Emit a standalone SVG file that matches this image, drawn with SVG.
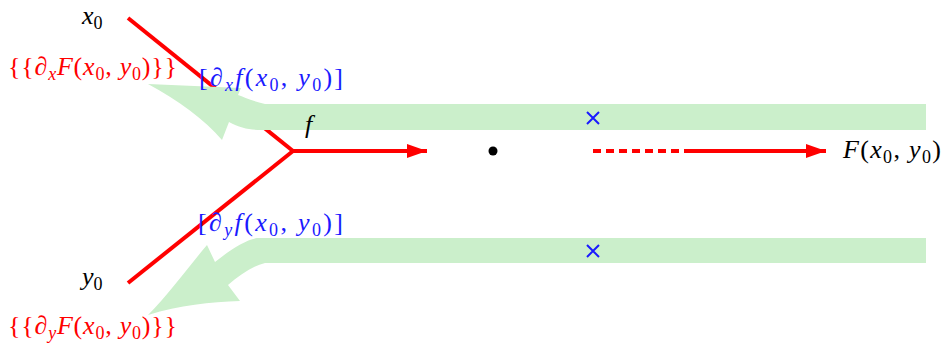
<svg xmlns="http://www.w3.org/2000/svg" width="946" height="347" viewBox="0 0 946 347">
<style>
.band{fill:#cbefcb;stroke:none}
.red{stroke:#ff0000;stroke-width:4;fill:none}
.t{font-family:"Liberation Serif","DejaVu Serif",serif;font-size:26px}
.i{font-style:italic}
.s{font-size:18px}
.cr{fill:#ff0000}
.cb{fill:#1a1aff}
.ck{fill:#000}
.cross{stroke:#1a1aff;stroke-width:2}
</style>
<defs>
<marker id="ah" markerWidth="20" markerHeight="14" refX="20" refY="7" orient="auto" markerUnits="userSpaceOnUse">
<path d="M0,0 L20,7 L0,14 Z" fill="#ff0000"/>
</marker>
</defs>
<g id="connectors">
<line class="red" x1="128" y1="18" x2="293" y2="151"/>
<line class="red" x1="128" y1="283" x2="293" y2="151"/>
<line class="red" x1="291" y1="151" x2="427" y2="151" marker-end="url(#ah)"/>
<line class="red" x1="593" y1="151" x2="688" y2="151" stroke-dasharray="8 5"/>
<line class="red" x1="688" y1="151" x2="826" y2="151" marker-end="url(#ah)"/>
</g>
<g id="gradients">
<path class="band" d="M926 104 L265 104 C252 101 244 97 238 95 L241 88 L148 84 C178 100 205 120 222 140 L229 122 C240 128 250 130 262 130 L926 130 Z"/>
<path class="band" d="M926 238 L257 238 C245 240 230 250 215 262 L207 245 C190 265 168 295 148 315 C180 305 210 302 240 301 L228 285 C240 275 252 266 265 263 L926 263 Z"/>
</g>
<g id="dot"><circle cx="493" cy="151" r="4.5" fill="#000"/></g>
<g id="crosses">
<path class="cross" d="M587 112 L599 124 M599 112 L587 124"/>
<path class="cross" d="M587 245 L599 257 M599 245 L587 257"/>
</g>
<g id="x0"><text class="t ck" x="82" y="24"><tspan class="i">x</tspan><tspan class="s" dy="5">0</tspan></text></g>
<g id="y0"><text class="t ck" x="82" y="285"><tspan class="i">y</tspan><tspan class="s" dy="5">0</tspan></text></g>
<g id="f"><text class="t ck i" x="305" y="133">f</text></g>
<g id="F"><text class="t ck" x="843" y="158" textLength="98" lengthAdjust="spacing"><tspan class="i">F</tspan>(<tspan class="i">x</tspan><tspan class="s" dy="5">0</tspan><tspan dy="-5">, </tspan><tspan class="i">y</tspan><tspan class="s" dy="5">0</tspan><tspan dy="-5">)</tspan></text></g>
<g id="dxF"><text class="t cr" x="8" y="75" textLength="169" lengthAdjust="spacing">{{∂<tspan class="s i" dy="5">x</tspan><tspan class="i" dy="-5">F</tspan>(<tspan class="i">x</tspan><tspan class="s" dy="5">0</tspan><tspan dy="-5">, </tspan><tspan class="i">y</tspan><tspan class="s" dy="5">0</tspan><tspan dy="-5">)}}</tspan></text></g>
<g id="dxf"><text class="t cb" x="199" y="86" textLength="144" lengthAdjust="spacing">[∂<tspan class="s i" dy="5">x</tspan><tspan class="i" dy="-5">f</tspan>(<tspan class="i">x</tspan><tspan class="s" dy="5">0</tspan><tspan dy="-5">, </tspan><tspan class="i">y</tspan><tspan class="s" dy="5">0</tspan><tspan dy="-5">)]</tspan></text></g>
<g id="dyf"><text class="t cb" x="198" y="231" textLength="145" lengthAdjust="spacing">[∂<tspan class="s i" dy="5">y</tspan><tspan class="i" dy="-5">f</tspan>(<tspan class="i">x</tspan><tspan class="s" dy="5">0</tspan><tspan dy="-5">, </tspan><tspan class="i">y</tspan><tspan class="s" dy="5">0</tspan><tspan dy="-5">)]</tspan></text></g>
<g id="dyF"><text class="t cr" x="8" y="334" textLength="169" lengthAdjust="spacing">{{∂<tspan class="s i" dy="5">y</tspan><tspan class="i" dy="-5">F</tspan>(<tspan class="i">x</tspan><tspan class="s" dy="5">0</tspan><tspan dy="-5">, </tspan><tspan class="i">y</tspan><tspan class="s" dy="5">0</tspan><tspan dy="-5">)}}</tspan></text></g>
</svg>
